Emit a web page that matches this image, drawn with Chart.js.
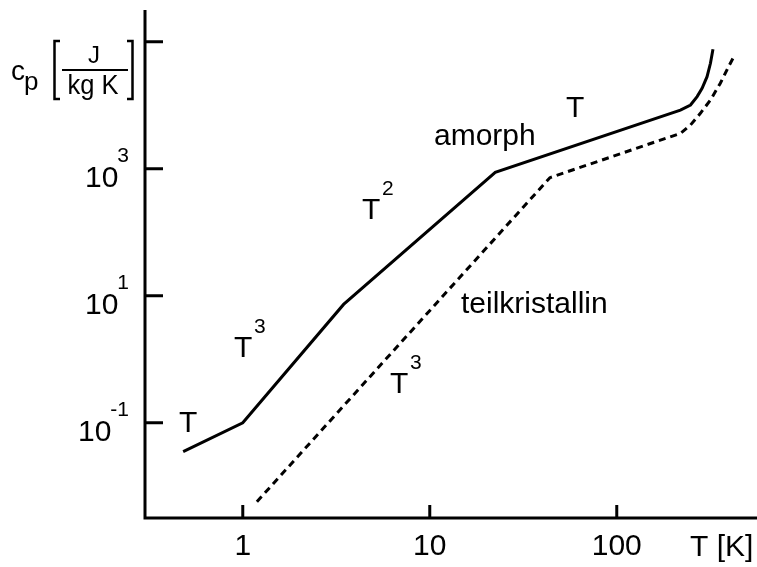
<!DOCTYPE html>
<html lang="de">
<head>
  <meta charset="UTF-8">
  <title>Wärmekapazität amorph / teilkristallin</title>
  <script src="https://cdn.jsdelivr.net/npm/chart.js"></script>
  <style>
    html, body { margin: 0; padding: 0; background: #fff; }
    canvas { display: block; }
  </style>
</head>
<body>
  <canvas id="cpChart" width="757" height="567"></canvas>
  <script>
    // --- data (T in K, cp in J/(kg K)) ---
    const amorphT  = [0.48, 1, 3.46, 22.4, 219, 248, 269, 286, 304, 317, 327];
    const amorphCp = [0.035, 0.1, 7.3, 880, 8400, 10100, 13700, 18500, 28200, 45800, 76000];
    const crystT   = [1.19, 43.9, 219, 248, 280, 317, 358, 396, 430];
    const crystCp  = [0.0057, 723, 3610, 4890, 7460, 12100, 22200, 40400, 64100];

    // axis ticks
    const xTicks = [1, 10, 100];
    const xTickLabels = ['1', '10', '100'];
    const yTicks = [0.1, 10, 1000, 100000];
    const yTickExps = ['-1', '1', '3', ''];

    const toPoints = (xs, ys) => xs.map((x, i) => ({ x: x, y: ys[i] }));

    const FONT = '"Liberation Sans", Arial, sans-serif';

    // draws axes, inward ticks, tick labels and the text annotations
    const decor = {
      id: 'decor',
      afterDraw(chart) {
        const ctx = chart.ctx;
        const a = chart.chartArea;
        const xs = chart.scales.x;
        const ys = chart.scales.y;
        ctx.save();
        ctx.strokeStyle = '#000';
        ctx.fillStyle = '#000';
        ctx.lineWidth = 3;
        ctx.lineCap = 'butt';

        // axis lines
        ctx.beginPath();
        ctx.moveTo(a.left, a.top);
        ctx.lineTo(a.left, a.bottom);
        ctx.lineTo(a.right, a.bottom);
        ctx.stroke();

        // x ticks + labels
        ctx.textBaseline = 'alphabetic';
        xTicks.forEach((v, i) => {
          const px = xs.getPixelForValue(v);
          ctx.beginPath();
          ctx.moveTo(px, a.bottom);
          ctx.lineTo(px, a.bottom - 13);
          ctx.stroke();
          ctx.font = '30px ' + FONT;
          ctx.textAlign = 'center';
          ctx.fillText(xTickLabels[i], px, 555);
        });
        ctx.textAlign = 'left';
        ctx.font = '30px ' + FONT;
        ctx.fillText('T [K]', 690, 556);

        // y ticks + labels (10 with superscript exponent)
        yTicks.forEach((v, i) => {
          const py = ys.getPixelForValue(v);
          ctx.beginPath();
          ctx.moveTo(a.left, py);
          ctx.lineTo(a.left + 18, py);
          ctx.stroke();
          const exp = yTickExps[i];
          if (!exp) return;
          ctx.font = '21px ' + FONT;
          const ew = ctx.measureText(exp).width;
          ctx.textAlign = 'right';
          ctx.fillText(exp, 129, py - 7);
          ctx.font = '30px ' + FONT;
          ctx.fillText('10', 129 - ew + 1, py + 18);
        });

        // y axis title: c_p [J / kg K]
        ctx.textAlign = 'left';
        ctx.font = '28px ' + FONT;
        ctx.fillText('c', 11, 80);
        ctx.font = '26px ' + FONT;
        ctx.fillText('p', 24, 90);
        ctx.lineWidth = 2.5;
        ctx.beginPath();
        ctx.moveTo(60, 41); ctx.lineTo(54.5, 41); ctx.lineTo(54.5, 99); ctx.lineTo(60, 99);
        ctx.moveTo(127, 41); ctx.lineTo(132.5, 41); ctx.lineTo(132.5, 99); ctx.lineTo(127, 99);
        ctx.stroke();
        ctx.lineWidth = 2;
        ctx.beginPath();
        ctx.moveTo(62, 70); ctx.lineTo(128, 70);
        ctx.stroke();
        ctx.textAlign = 'center';
        ctx.font = '24px ' + FONT;
        ctx.fillText('J', 94, 63);
        ctx.font = '27px ' + FONT;
        ctx.fillText('kg K', 93, 94, 51);

        // annotations
        ctx.textAlign = 'left';
        const powerLabel = (x, y, exp) => {
          ctx.font = '30px ' + FONT;
          ctx.fillText('T', x, y);
          if (exp) {
            ctx.font = '21px ' + FONT;
            ctx.fillText(exp, x + 20, y - 24);
          }
        };
        powerLabel(179, 432, '');
        powerLabel(234, 357, '3');
        powerLabel(362, 219, '2');
        powerLabel(566, 117, '');
        powerLabel(390, 393, '3');
        ctx.font = '30px ' + FONT;
        ctx.fillText('amorph', 434, 145);
        ctx.fillText('teilkristallin', 461, 313);

        ctx.restore();
      }
    };

    new Chart(document.getElementById('cpChart').getContext('2d'), {
      type: 'line',
      data: {
        datasets: [
          {
            label: 'amorph',
            data: toPoints(amorphT, amorphCp),
            borderColor: '#000',
            borderWidth: 3,
            pointRadius: 0,
            tension: 0,
            fill: false
          },
          {
            label: 'teilkristallin',
            data: toPoints(crystT, crystCp),
            borderColor: '#000',
            borderWidth: 3,
            borderDash: [7, 5],
            pointRadius: 0,
            tension: 0,
            fill: false
          }
        ]
      },
      options: {
        responsive: false,
        animation: false,
        layout: { padding: { left: 145, top: 10, right: 0, bottom: 49 } },
        plugins: {
          legend: { display: false },
          tooltip: { enabled: false }
        },
        scales: {
          x: { type: 'logarithmic', min: Math.pow(10, -0.5), max: Math.pow(10, 2.75), display: false },
          y: { type: 'logarithmic', min: Math.pow(10, -2.5), max: Math.pow(10, 5.5), display: false }
        }
      },
      plugins: [decor]
    });
  </script>
</body>
</html>
